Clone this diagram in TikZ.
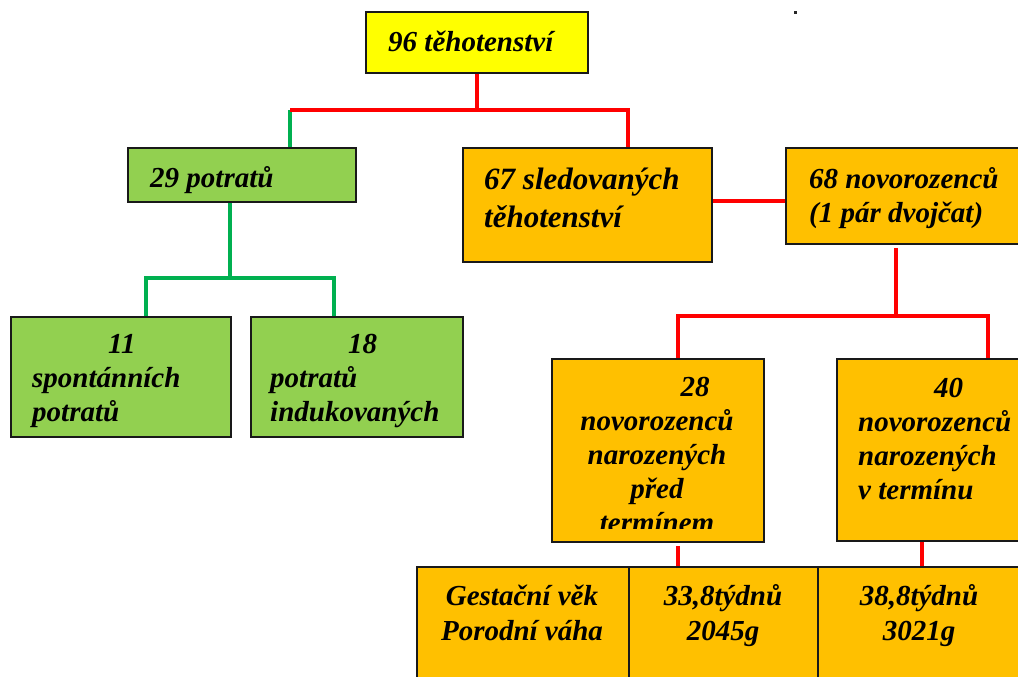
\documentclass[tikz,border=0pt]{standalone}
\usepackage{fontspec}
\setmainfont{Liberation Serif}
\usetikzlibrary{backgrounds}
\definecolor{cyel}{HTML}{FFFF00}
\definecolor{cgrn}{HTML}{92D050}
\definecolor{corg}{HTML}{FFC000}
\definecolor{cgline}{HTML}{00B050}
\definecolor{crline}{HTML}{FF0000}
\newcommand{\mytab}[2]{\begin{tabular}[t]{@{}#1@{}}#2\end{tabular}}
\begin{document}
\begin{tikzpicture}[x=1pt,y=-1pt,
  box/.style={draw=black!90, line width=1.6pt, anchor=north west, inner sep=0pt, outer sep=0pt},
  ybox/.style={box, fill=cyel},
  gbox/.style={box, fill=cgrn},
  obox/.style={box, fill=corg},
  txt/.style={inner sep=0pt, anchor=base west, font=\bfseries\itshape\fontsize{29}{34}\selectfont},
  ctxt/.style={txt, anchor=base},
  redline/.style={draw=crline, line width=3.2pt},
  greenline/.style={draw=cgline, line width=3.2pt}]
\useasboundingbox (0,0) rectangle (1018,677);
\clip (0,0) rectangle (1018,677);

% boxes
\node[ybox, minimum width=222, minimum height=61] (b96) at (366,12) {};
\node[gbox, minimum width=228, minimum height=54] (b29) at (128,148) {};
\node[gbox, minimum width=220, minimum height=120] (b11) at (11,317) {};
\node[gbox, minimum width=212, minimum height=120] (b18) at (251,317) {};
\node[obox, minimum width=249, minimum height=114] (b67) at (463,148) {};
\node[obox, minimum width=260, minimum height=96] (b68) at (786,148) {};
\node[obox, minimum width=212, minimum height=183] (b28) at (552,359) {};
\node[obox, minimum width=210, minimum height=182] (b40) at (837,359) {};
\node[obox, minimum width=212, minimum height=130] (c1) at (417,567) {};
\node[obox, minimum width=189, minimum height=130] (c2) at (629,567) {};
\node[obox, minimum width=230, minimum height=130] (c3) at (818,567) {};

% texts
\node[txt] (t96) at (388,52) {96 těhotenství};
\node[txt] (t29) at (150,187) {29 potratů};
\node[txt] (t11) at (32,353) {\mytab{l}{\hspace*{76pt}11\\spontánních\\potratů}};
\node[txt] (t18) at (270,353) {\mytab{l}{\hspace*{78pt}18\\potratů\\indukovaných}};
\node[txt, font=\bfseries\itshape\fontsize{31}{38}\selectfont] (t67) at (484,189) {\mytab{l}{67 sledovaných\\těhotenství}};
\node[txt] (t68) at (809,188) {\mytab{l}{68 novorozenců\\(1 pár dvojčat)}};
\begin{scope}
  \clip (552,359) rectangle (764,528);
  \node[ctxt] (t28) at (657,396) {\mytab{c}{\hspace*{76pt}28\\novorozenců\\narozených\\před\\termínem}};
\end{scope}
\node[txt] (t40) at (858,397) {\mytab{l}{\hspace*{76pt}40\\novorozenců\\narozených\\v termínu}};
\node[ctxt, font=\bfseries\itshape\fontsize{29}{35}\selectfont] (tc1) at (522,605) {\mytab{c}{Gestační věk\\Porodní váha}};
\node[ctxt, font=\bfseries\itshape\fontsize{29}{35}\selectfont] (tc2) at (723,605) {\mytab{c}{33,8týdnů\\2045g}};
\node[ctxt, font=\bfseries\itshape\fontsize{29}{35}\selectfont] (tc3) at (919,605) {\mytab{c}{38,8týdnů\\3021g}};

% stray dot
\fill[black!85] (794,11) rectangle (797,14);

% connectors
\coordinate (jl) at (290,110);
\coordinate (jr) at (628,110);
\coordinate (g1) at (230,278);
\coordinate (gl) at (146,278);
\coordinate (gr) at (334,278);
\coordinate (j2) at (0,201);
\coordinate (j3) at (896,316);
\coordinate (jl2) at (678,316);
\coordinate (jr2) at (988,316);
\coordinate (x28) at (678,0);
\coordinate (x40) at (922,0);
\begin{scope}[on background layer]
  \draw[greenline] (jl) -- (jl |- b29.north);
  \draw[redline] (b96.south) |- (jl);
  \draw[redline] (b96.south) |- (jr) -- (jr |- b67.north);
  \draw[greenline] (b29.south -| g1) -- (g1);
  \draw[greenline] (b11.north -| gl) |- (gr) -- (gr |- b18.north);
  \draw[redline] (b67.east |- j2) -- (b68.west |- j2);
  \draw[redline, shorten <=4pt] (b68.south -| j3) -- (j3);
  \draw[redline] (b28.north -| jl2) |- (jr2) -- (jr2 |- b40.north);
  \draw[redline, shorten <=4pt] (b28.south -| x28) -- (c2.north -| x28);
  \draw[redline] (b40.south -| x40) -- (c3.north -| x40);
\end{scope}
\end{tikzpicture}
\end{document}
